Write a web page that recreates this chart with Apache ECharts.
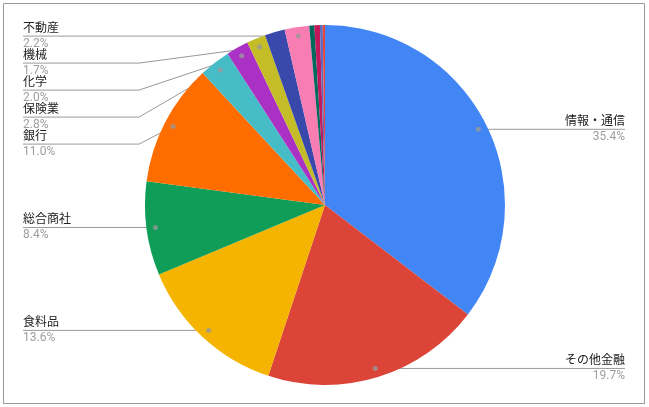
<!DOCTYPE html>
<html><head><meta charset="utf-8">
<script src="https://cdn.jsdelivr.net/npm/echarts@6/dist/echarts.min.js"></script>
<style>html,body{margin:0;padding:0;background:#fff}#c{width:649px;height:407px}</style>
</head><body><div id="c"></div>
<script>
// ---- data ----
const names = ['情報・通信','その他金融','食料品','総合商社','銀行','保険業','化学','機械','未表示1','不動産','未表示2','未表示3','未表示4','未表示5'];
const values = [35.4,19.7,13.6,8.4,11.0,2.8,2.0,1.7,1.8,2.2,0.45,0.5,0.25,0.2];
const colors = ['#4285f4','#db4437','#f4b400','#0f9d58','#ff6d00','#46bdc6','#ab30c4','#c4bd28','#3949ab','#f77db3','#00695c','#c2185b','#5c6bc0','#e8453c'];
const labelled = ['情報・通信','その他金融','食料品','総合商社','銀行','保険業','化学','機械','不動産'];

// ---- layout ----
const CX = 325, CY = 205, R = 180, DOTF = 0.95;
const LEFT_X = 23, RIGHT_X = 625, ELBOW_L = 139, ELBOW_R = 520, TOP_Y = 36, STEP = 27;
const FONT = 'Roboto, "Noto Sans CJK JP", sans-serif';

const total = values.reduce((a, b) => a + b, 0);
let cum = 0;
const mids = values.map(v => { const m = cum + v / 2; cum += v; return m; });
const dots = mids.map(m => {
  const a = m / total * Math.PI * 2;
  return [CX + Math.sin(a) * R * DOTF, CY - Math.cos(a) * R * DOTF];
});
const lineY = {};
['L', 'R'].forEach(side => {
  const idx = names.map((n, i) => i).filter(i => labelled.includes(names[i]) && ((dots[i][0] < CX) === (side === 'L')));
  idx.sort((a, b) => dots[a][1] - dots[b][1]);
  let prev = -1e9;
  idx.forEach(i => { const y = Math.max(dots[i][1], TOP_Y, prev + STEP); lineY[i] = y; prev = y; });
});

const pieData = names.map((n, i) => {
  const d = { name: n, value: values[i], itemStyle: { color: colors[i] } };
  if (!labelled.includes(n)) { d.label = { show: false }; d.labelLine = { show: false }; }
  return d;
});
const dotData = names.map((n, i) => i).filter(i => labelled.includes(names[i])).map(i => [DOTF, mids[i]]);

const chart = echarts.init(document.getElementById('c'), null, { renderer: 'canvas' });
chart.setOption({
  animation: false,
  backgroundColor: '#fff',
  graphic: [{ type: 'rect', shape: { x: 3.5, y: 3.5, width: 641, height: 400 }, style: { fill: 'none', stroke: '#9a9a9a', lineWidth: 1 }, z: 100 }],
  polar: { center: [CX, CY], radius: R },
  angleAxis: { type: 'value', min: 0, max: total, startAngle: 90, clockwise: true, show: false },
  radiusAxis: { type: 'value', min: 0, max: 1, show: false },
  series: [{
    type: 'pie',
    center: [CX, CY],
    radius: R,
    startAngle: 90,
    clockwise: true,
    avoidLabelOverlap: false,
    percentPrecision: 1,
    data: pieData,
    itemStyle: { borderWidth: 0 },
    label: {
      show: true, position: 'outside',
      formatter: p => '{n|' + p.name + '}\n{p|' + p.percent.toFixed(1) + '%}',
      fontFamily: FONT,
      rich: {
        n: { fontSize: 12, color: '#222', lineHeight: 16, fontFamily: FONT },
        p: { fontSize: 12, color: '#9e9e9e', lineHeight: 15, fontFamily: FONT }
      }
    },
    labelLine: { show: true, length: 10, length2: 10, lineStyle: { color: '#9a9a9a', width: 1 } },
    labelLayout: function (p) {
      const i = p.dataIndex;
      if (lineY[i] == null) return {};
      const d = dots[i], y = lineY[i];
      if (d[0] < CX) {
        return { x: LEFT_X, y: y, align: 'left', verticalAlign: 'middle',
          labelLinePoints: [[d[0], d[1]], [Math.min(ELBOW_L, d[0]), y], [LEFT_X, y]] };
      }
      return { x: RIGHT_X, y: y, align: 'right', verticalAlign: 'middle',
        labelLinePoints: [[d[0], d[1]], [Math.max(ELBOW_R, d[0]), y], [RIGHT_X, y]] };
    },
    z: 2
  }, {
    type: 'scatter',
    coordinateSystem: 'polar',
    data: dotData,
    symbolSize: 5,
    itemStyle: { color: '#999' },
    silent: true,
    z: 5
  }]
});
</script></body></html>
